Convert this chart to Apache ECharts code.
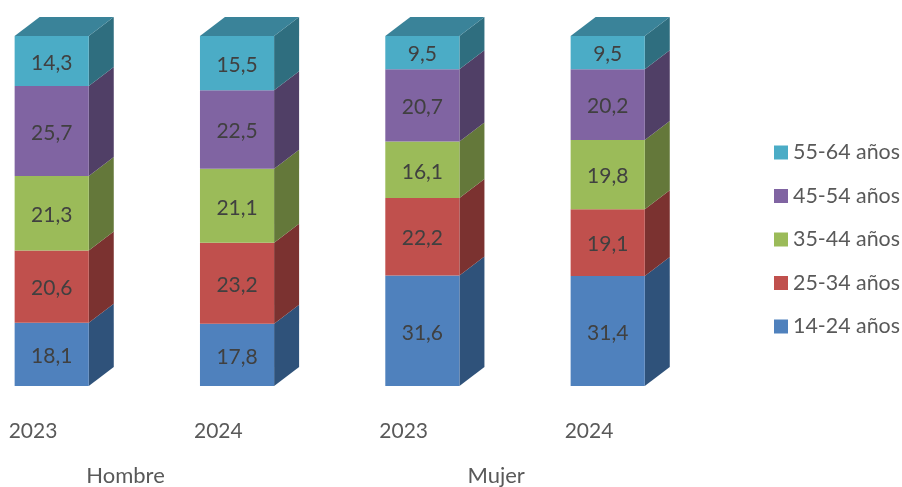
<!DOCTYPE html>
<html><head><meta charset="utf-8">
<style>html,body{margin:0;padding:0;background:#fff}#c{width:902px;height:487px}</style>
<script src="https://cdn.jsdelivr.net/npm/echarts@6/dist/echarts.min.js"></script>
</head><body><div id="c"></div>
<script>
const categories = ['Hombre 2023','Hombre 2024','Mujer 2023','Mujer 2024'];
const yearLabels = ['2023','2024','2023','2024'];
const groupLabels = ['Hombre','Mujer'];
const seriesNames = ['14-24 años','25-34 años','35-44 años','45-54 años','55-64 años'];
const age14 = [18.1,17.8,31.6,31.4];
const age25 = [20.6,23.2,22.2,19.1];
const age35 = [21.3,21.1,16.1,19.8];
const age45 = [25.7,22.5,20.7,20.2];
const age55 = [14.3,15.5,9.5,9.5];
const allValues = [age14,age25,age35,age45,age55];
const frontColors = ['#4F81BD','#C0504D','#9BBB59','#8064A2','#4BACC6'];
const sideColors = ['#2F527A','#7B3230','#64783A','#503F66','#2F6E7F'];
const topColor = '#3A8399';

const FONT = 'Lato';
const depthX = 25, depthY = 19;
const totals = categories.map((_, i) => allValues.reduce((s, a) => s + a[i], 0));

function makeSeries(idx){
  const data = categories.map((c, i) => {
    let base = 0;
    for (let k = 0; k < idx; k++) base += allValues[k][i];
    return [i, (base + allValues[idx][i]) / totals[i] * 100, base / totals[i] * 100, allValues[idx][i]];
  });
  return {
    type:'custom', name:seriesNames[idx], xAxisIndex:0, yAxisIndex:0,
    itemStyle:{color:frontColors[idx]},
    encode:{x:0,y:[1,2]}, data, clip:false, silent:true,
    renderItem(params, api){
      const hi = api.coord([api.value(0), api.value(1)]);
      const lo = api.coord([api.value(0), api.value(2)]);
      const w = api.size([1,0])[0] * 0.4;
      const x0 = hi[0] - w/2, x1 = hi[0] + w/2;
      const children = [{
        type:'polygon', shape:{points:[[x1,hi[1]],[x1+depthX,hi[1]-depthY],[x1+depthX,lo[1]-depthY],[x1,lo[1]]]},
        style:{fill:sideColors[idx]}
      }];
      if (idx === allValues.length - 1) children.push({
        type:'polygon', shape:{points:[[x0,hi[1]],[x0+depthX,hi[1]-depthY],[x1+depthX,hi[1]-depthY],[x1,hi[1]]]},
        style:{fill:topColor}
      });
      children.push({
        type:'rect', shape:{x:x0,y:hi[1],width:w,height:lo[1]-hi[1]},
        style:{fill:frontColors[idx]}
      });
      children.push({
        type:'text', x:hi[0], y:(hi[1]+lo[1])/2+2,
        style:{text:api.value(3).toFixed(1).replace('.',','),fill:'#404040',font:'21px '+FONT,textAlign:'center',textVerticalAlign:'middle'}
      });
      return {type:'group',children};
    }
  };
}

const chart = echarts.init(document.getElementById('c'), null, {renderer:'canvas'});
const gridTop = 36, gridH = 350;
const noLine = {axisLine:{show:false}, axisTick:{show:false}};
chart.setOption({
  animation:false,
  backgroundColor:'#fff',
  textStyle:{fontFamily:FONT},
  legend:{
    orient:'vertical', left:774, top:142, padding:0, itemWidth:14, itemHeight:14, itemGap:22.5, icon:'rect',
    data:seriesNames.slice().reverse(),
    textStyle:{color:'#595959',fontSize:21.4,fontFamily:FONT},
    selectedMode:false
  },
  grid:[
    {left:51.7, top:gridTop, width:556, height:gridH},
    {left:33, top:gridTop, width:556, height:gridH},
    {left:125.5, top:gridTop, width:370.6, height:gridH}
  ],
  xAxis:[
    Object.assign({type:'category', gridIndex:0, data:categories, boundaryGap:false, axisLabel:{show:false}}, noLine),
    Object.assign({type:'category', gridIndex:1, data:yearLabels, boundaryGap:false, position:'bottom',
     axisLabel:{color:'#595959',fontSize:21,fontFamily:FONT,margin:35,interval:0,hideOverlap:false}}, noLine),
    Object.assign({type:'category', gridIndex:2, data:groupLabels, boundaryGap:false, position:'bottom',
     axisLabel:{color:'#595959',fontSize:22,fontFamily:FONT,margin:81,interval:0,hideOverlap:false}}, noLine)
  ],
  yAxis:[
    {type:'value', gridIndex:0, min:0, max:100, show:false},
    {type:'value', gridIndex:1, min:0, max:100, show:false},
    {type:'value', gridIndex:2, min:0, max:100, show:false}
  ],
  series:allValues.map((_, i) => makeSeries(i))
});
</script></body></html>
